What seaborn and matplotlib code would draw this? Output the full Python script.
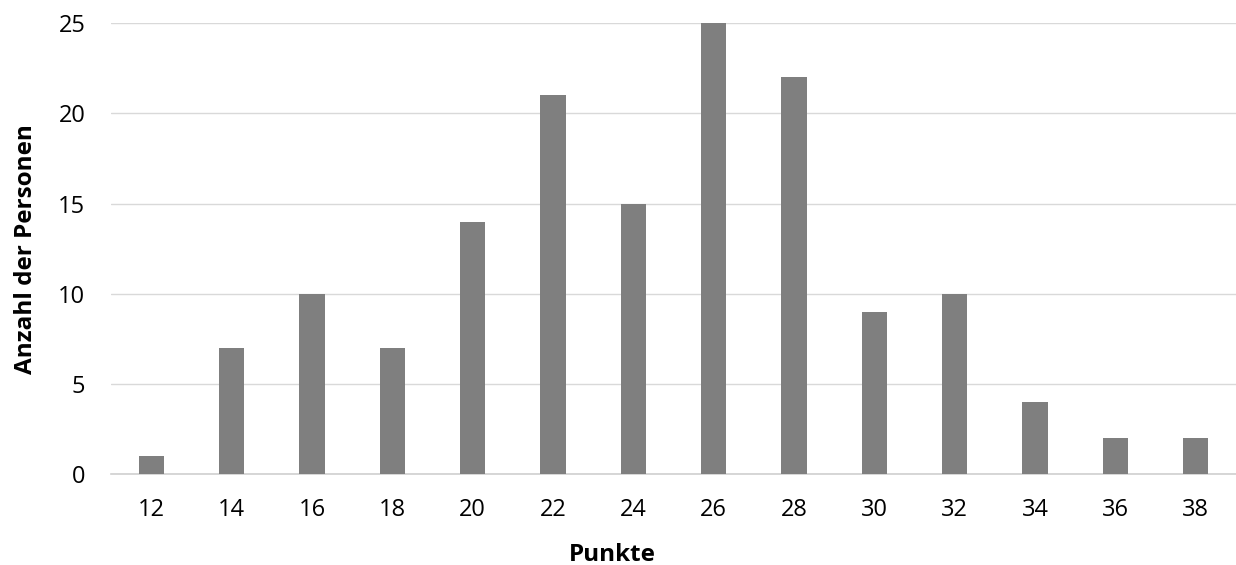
import pandas as pd
import seaborn as sns
import matplotlib.pyplot as plt

punkte = [12, 14, 16, 18, 20, 22, 24, 26, 28, 30, 32, 34, 36, 38]
anzahl = [1, 7, 10, 7, 14, 21, 15, 25, 22, 9, 10, 4, 2, 2]

sns.set_theme(style="white")
plt.rcParams['font.family'] = ['Open Sans', 'DejaVu Sans']

df = pd.DataFrame({"Punkte": [str(p) for p in punkte], "Anzahl": anzahl})

fig = plt.figure(figsize=(12.36, 5.65), dpi=100)
ax = fig.add_axes([0.0898, 0.161, 0.9102, 0.798])

sns.barplot(data=df, x="Punkte", y="Anzahl", color="#7f7f7f", saturation=1,
            width=0.315, ax=ax, zorder=3, linewidth=0)

ax.set_ylim(0, 25)
ax.set_yticks(range(0, 26, 5))
ax.yaxis.grid(True, color="#d9d9d9", linewidth=1, zorder=0)
ax.set_axisbelow(True)
for s in ["top", "right", "left"]:
    ax.spines[s].set_visible(False)
ax.spines["bottom"].set_color("#d0d0d0")
ax.spines["bottom"].set_linewidth(1.2)

ax.tick_params(axis="both", labelsize=17, colors="#000000", length=0)
ax.tick_params(axis="y", pad=18.5)
ax.tick_params(axis="x", pad=17)
ax.set_xlabel("Punkte", fontsize=17.5, fontweight="bold", color="#000000")
ax.set_ylabel("Anzahl der Personen", fontsize=17.5, fontweight="bold", color="#000000")
ax.xaxis.set_label_coords(0.446, -0.153)
ax.yaxis.set_label_coords(-0.065, 0.5)

fig.savefig("out.png", dpi=100)
